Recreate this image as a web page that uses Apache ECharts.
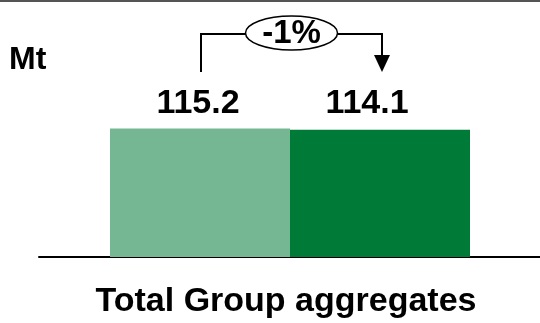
<!DOCTYPE html>
<html>
<head>
<meta charset="utf-8">
<script src="https://cdn.jsdelivr.net/npm/echarts@6/dist/echarts.min.js"></script>
<style>
  html, body { margin: 0; padding: 0; background: #fff; }
  #chart { width: 540px; height: 323px; }
</style>
</head>
<body>
<div id="chart"></div>
<script>
// Aggregates volumes, million tonnes
const categories = ['Prior year', 'Current year'];
const volumes = [115.2, 114.1];
const barColors = ['#75B792', '#007A37'];
const changeLabel = '-1%';
const unitLabel = 'Mt';
const groupLabel = 'Total Group aggregates';

const FONT = '"Liberation Sans", Arial, sans-serif';
const chart = echarts.init(document.getElementById('chart'), null, { renderer: 'canvas' });

const labelOffsets = [[-2, -1], [-13, -2]];

chart.setOption({
  animation: false,
  backgroundColor: '#fff',
  title: {
    text: groupLabel,
    left: 281,
    top: 280,
    textAlign: 'center',
    textStyle: { fontFamily: FONT, fontWeight: 'bold', fontSize: 34, color: '#000' }
  },
  grid: [
    { left: 110, right: 70, top: 34, bottom: 66 },
    { left: 39, right: 0, top: 34, bottom: 66 }
  ],
  xAxis: [
    {
      type: 'category', gridIndex: 0, data: categories,
      axisLine: { show: false }, axisTick: { show: false }, axisLabel: { show: false }
    },
    {
      type: 'category', gridIndex: 1, data: [''],
      axisLine: { show: true, lineStyle: { color: '#000', width: 2 } },
      axisTick: { show: false }, axisLabel: { show: false }
    }
  ],
  yAxis: [
    { type: 'value', gridIndex: 0, min: 0, max: 200, show: false, splitLine: { show: false } },
    { type: 'value', gridIndex: 1, min: 0, max: 200, show: false, splitLine: { show: false } }
  ],
  series: [{
    type: 'bar',
    xAxisIndex: 0,
    yAxisIndex: 0,
    barCategoryGap: 0,
    barWidth: '100%',
    data: volumes.map((v, i) => ({
      value: v,
      itemStyle: { color: barColors[i] },
      label: { offset: labelOffsets[i] }
    })),
    label: {
      show: true,
      position: 'top',
      distance: 7,
      formatter: p => p.value.toFixed(1),
      fontFamily: FONT,
      fontWeight: 'bold',
      fontSize: 34,
      color: '#000'
    }
  }]
});

// Change bracket from the first bar to the second, with the percentage in an ellipse
function drawBracket() {
  const x1 = chart.convertToPixel({ xAxisIndex: 0 }, categories[0]) + 1;
  const x2 = chart.convertToPixel({ xAxisIndex: 0 }, categories[1]) + 2;
  const yTop = 34, yLow = 72, yArrow = 55;
  const cx = (x1 + x2) / 2, rx = 46, ry = 17;
  const stroke = { stroke: '#000', lineWidth: 2, fill: null };
  chart.setOption({
    graphic: [
      { type: 'rect', left: 0, top: 0, shape: { x: 0, y: 0, width: 540, height: 2 }, style: { fill: '#555' } },
      { type: 'text', style: { text: unitLabel, x: 9, y: 60, verticalAlign: 'middle',
          font: 'bold 32px ' + FONT, fill: '#000' } },
      { type: 'polyline', shape: { points: [[x1, yLow], [x1, yTop], [x2, yTop], [x2, yArrow]] }, style: stroke },
      { type: 'polygon', shape: { points: [[x2 - 8, yArrow], [x2 + 8, yArrow], [x2, yLow]] }, style: { fill: '#000' } },
      { type: 'ellipse', shape: { cx: cx, cy: yTop - 1, rx: rx, ry: ry }, style: { stroke: '#000', lineWidth: 1.5, fill: '#fff' } },
      { type: 'text', style: { text: changeLabel, x: cx, y: yTop, align: 'center', verticalAlign: 'middle',
          font: 'bold 33px ' + FONT, fill: '#000' } }
    ]
  });
}
drawBracket();
</script>
</body>
</html>
